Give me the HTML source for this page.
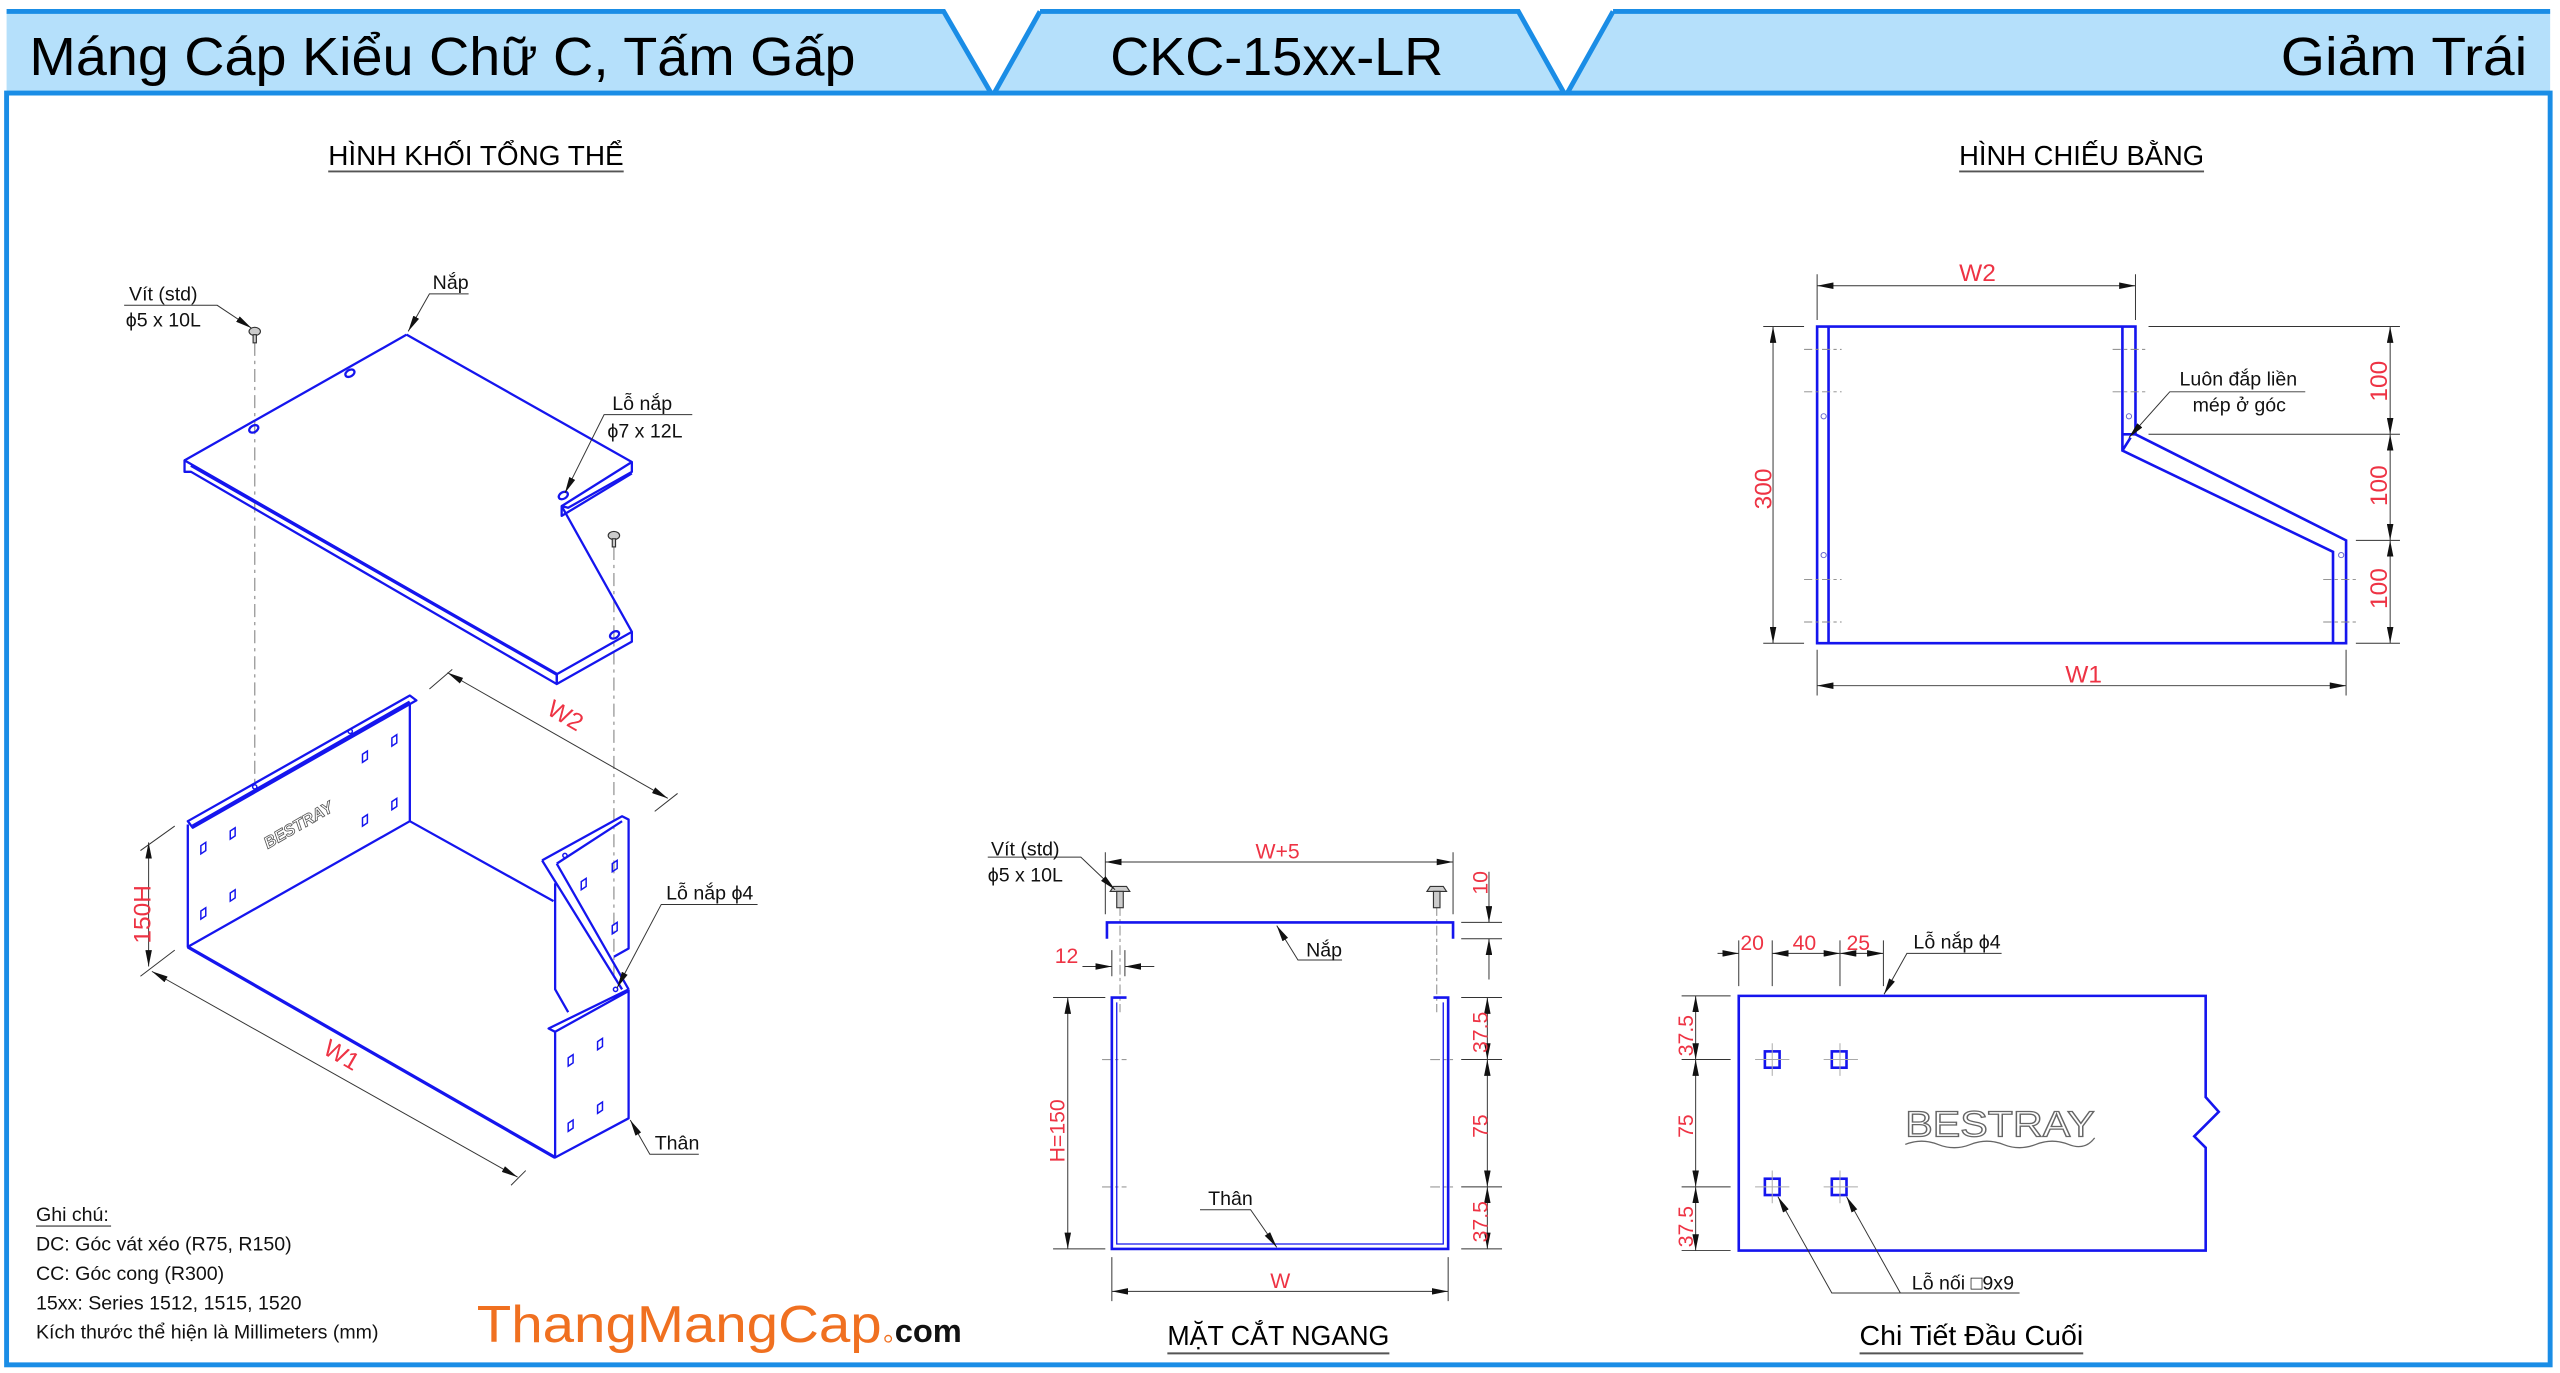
<!DOCTYPE html>
<html><head><meta charset="utf-8"><style>
html,body{margin:0;padding:0;background:#fff}
svg{display:block}
text{font-family:"Liberation Sans","DejaVu Sans",sans-serif}
</style></head><body>
<svg width="2560" height="1373" viewBox="0 0 1568 841" xmlns="http://www.w3.org/2000/svg">
<defs>
<marker id="a" viewBox="0 0 10 4" refX="10" refY="2" markerWidth="10" markerHeight="4" markerUnits="userSpaceOnUse" orient="auto-start-reverse"><path d="M0,0 L10,2 L0,4z" fill="#111"/></marker>
</defs>
<rect width="1568" height="841" fill="#fff"/>
<!-- header -->
<polygon points="4,7 578,7 607,57 4,57" fill="#b5e0fb"/>
<polygon points="637,7 930,7 958,57 609,57" fill="#b5e0fb"/>
<polygon points="988,7 1562,7 1562,57 960,57" fill="#b5e0fb"/>
<g stroke="#1a8de6" stroke-width="3" fill="none">
<path d="M4,7 H578 L607,57 M637,7 H930 L958,57 M988,7 H1562 M637,7 L609,57 M988,7 L960,57"/>
<rect x="4" y="57" width="1558" height="779"/>
</g>
<text x="18" y="46" font-size="33" textLength="506" lengthAdjust="spacingAndGlyphs">Máng Cáp Kiểu Chữ C, Tấm Gấp</text>
<text x="680" y="46" font-size="33" textLength="204" lengthAdjust="spacingAndGlyphs">CKC-15xx-LR</text>
<text x="1397" y="46" font-size="33" textLength="151" lengthAdjust="spacingAndGlyphs">Giảm Trái</text>
<!-- section titles -->
<g font-size="17">
<text x="201" y="101" textLength="181" lengthAdjust="spacingAndGlyphs">HÌNH KHỐI TỔNG THỂ</text>
<text x="1200" y="101" textLength="150" lengthAdjust="spacingAndGlyphs">HÌNH CHIẾU BẰNG</text>
<text x="715" y="824" textLength="136" lengthAdjust="spacingAndGlyphs">MẶT CẮT NGANG</text>
<text x="1139" y="824" textLength="137" lengthAdjust="spacingAndGlyphs">Chi Tiết Đầu Cuối</text>
</g>
<g stroke="#555" stroke-width="1.2"><path d="M201,105 H382 M1200,105 H1350 M715,829 H851 M1139,829 H1276"/></g>

<!-- ========== ISOMETRIC ========== -->
<g stroke="#999" stroke-width="0.8" stroke-dasharray="8,3,2,3" fill="none">
<path d="M156,210 V482 M376,335 V600"/>
</g>
<!-- lid -->
<g stroke="#1515ee" stroke-width="1.4" fill="none" stroke-linejoin="round">
<path d="M249,205 L387,283 L387,289 L348,311 L344,310 L387,387 L387,393 L341,419 L341,413 L113,282 L113,289 L117,289 L341,419"/>
<path d="M249,205 L113,282 M387,283 L344,310 M344,310 L344,316 L387,290 M387,387 L341,413 M341,413 L341,419"/>
<path d="M117,285 L341,413" stroke-width="2"/>
<ellipse cx="155.4" cy="262.7" rx="3" ry="2" transform="rotate(-30 155.4 262.7)"/>
<ellipse cx="214.3" cy="228.6" rx="3" ry="2" transform="rotate(-30 214.3 228.6)"/>
<ellipse cx="345" cy="303.5" rx="3" ry="2" transform="rotate(-30 345 303.5)"/>
<ellipse cx="376.4" cy="388.9" rx="3" ry="2" transform="rotate(-30 376.4 388.9)"/>
</g>
<!-- screws iso -->
<g fill="#ccc" stroke="#333" stroke-width="0.7">
<ellipse cx="156" cy="203" rx="3.5" ry="2.5"/><rect x="155" y="205" width="2" height="5"/>
<ellipse cx="376" cy="328" rx="3.5" ry="2.5"/><rect x="375" y="330" width="2" height="5"/>
</g>
<!-- body -->
<g stroke="#1515ee" stroke-width="1.4" fill="none" stroke-linejoin="round">
<path d="M115,503 L251,426 L255,429 L118,507 L115,503 Z"/>
<path d="M115,505 V580 L340,709 L385,685 V606"/>
<path d="M251,431 V503 L115,580 M251,503 L339,552"/>
<path d="M118,506 L251,430" stroke-width="2"/>
<path d="M115,580 L340,709" stroke-width="2"/>
<path d="M340,709 V632 L336,630 L385,606 M340,632 L385,607"/>
<path d="M332,527 L381,500 L385,502 V581 L376,586"/>
<path d="M332,527 L381,606 M341,529 L385,606 M341,529 L381,503"/>
<path d="M340,541 V606 L348,620"/>
</g>
<g stroke="#1515ee" stroke-width="0.9" fill="none">
<path d="M123,518 l3,-2 v5 l-3,2z M141,509 l3,-2 v5 l-3,2z M123,558 l3,-2 v5 l-3,2z M141,547 l3,-2 v5 l-3,2z M222,462 l3,-2 v5 l-3,2z M240,452 l3,-2 v5 l-3,2z M222,501 l3,-2 v5 l-3,2z M240,491 l3,-2 v5 l-3,2z M348,648 l3,-2 v5 l-3,2z M366,638 l3,-2 v5 l-3,2z M348,688 l3,-2 v5 l-3,2z M366,677 l3,-2 v5 l-3,2z M356,540 l3,-2 v5 l-3,2z M375,529 l3,-2 v5 l-3,2z M375,567 l3,-2 v5 l-3,2z"/>
<circle cx="156" cy="482" r="1.3"/><circle cx="214.5" cy="448" r="1.3"/><circle cx="346" cy="524" r="1.3"/><circle cx="377" cy="606" r="1.3"/>
</g>
<text x="0" y="0" font-size="10" font-weight="bold" fill="none" stroke="#555" stroke-width="0.5" font-style="italic" transform="translate(164,520) rotate(-30)">BESTRAY</text>
<!-- iso dims -->
<g stroke="#333" stroke-width="0.6" fill="none">
<path d="M274,412 L409,489" marker-start="url(#a)" marker-end="url(#a)"/>
<path d="M263,422 L277,410 M401,497 L415,486"/>
<path d="M93,595 L317,721" marker-start="url(#a)" marker-end="url(#a)"/>
<path d="M91,516 V592" marker-start="url(#a)" marker-end="url(#a)"/>
<path d="M86,598 L107,582 M86,521 L107,506 M313,726 L322,717"/>
</g>
<g fill="#ee3344" font-size="15">
<text transform="translate(334,437) rotate(30)">W2</text>
<text transform="translate(197,645) rotate(30)">W1</text>
<text transform="translate(92,578) rotate(-90)">150H</text>
</g>
<!-- iso labels -->
<g stroke="#333" stroke-width="0.6" fill="none">
<path d="M76,187 H133 L154,201" marker-end="url(#a)"/>
<path d="M287,180 H263 L250,203" marker-end="url(#a)"/>
<path d="M424,254 H370 L346,302" marker-end="url(#a)"/>
<path d="M464,554 H405 L378,605" marker-end="url(#a)"/>
<path d="M428,707 H398 L386,686" marker-end="url(#a)"/>
</g>
<g font-size="12" fill="#111">
<text x="79" y="184">Vít (std)</text>
<text x="77" y="200">ϕ5 x 10L</text>
<text x="265" y="177">Nắp</text>
<text x="375" y="251">Lỗ nắp</text>
<text x="372" y="268">ϕ7 x 12L</text>
<text x="408" y="551">Lỗ nắp ϕ4</text>
<text x="401" y="704">Thân</text>
</g>

<!-- ========== CROSS SECTION ========== -->
<g stroke="#999" stroke-width="0.7" fill="none" stroke-dasharray="6,2,2,2">
<path d="M686,555 V620 M880,555 V620"/>
<path d="M675,649 H690 M876,649 H890 M675,727 H690 M876,727 H890"/>
</g>
<g stroke="#1515ee" stroke-width="1.6" fill="none">
<path d="M678,575 V565 H890 V575"/>
<path d="M690,611 H681 V765 H887 V611 H878"/>
<path d="M684,614 V762 H884 V614" stroke-width="0.8"/>
</g>
<g fill="#ccc" stroke="#333" stroke-width="0.7">
<path d="M680,546 h12 l-2,-3 h-8z"/><rect x="684" y="546" width="4" height="10"/>
<path d="M874,546 h12 l-2,-3 h-8z"/><rect x="878" y="546" width="4" height="10"/>
</g>
<g stroke="#333" stroke-width="0.6" fill="none">
<path d="M677,528 H890" marker-start="url(#a)" marker-end="url(#a)"/>
<path d="M677,522 V560 M890,522 V560"/>
<path d="M912,534 V565 M912,575 V600" />
<path d="M912,555 V565" marker-end="url(#a)"/><path d="M912,585 V575" marker-end="url(#a)"/>
<path d="M895,565 H920 M895,575 H920"/>
<path d="M663,592 H681" marker-end="url(#a)"/><path d="M707,592 H689" marker-end="url(#a)"/>
<path d="M681,582 V598 M689,582 V598"/>
<path d="M654,611 V765" marker-start="url(#a)" marker-end="url(#a)"/>
<path d="M645,611 H677 M645,765 H677"/>
<path d="M911,611 V649" marker-start="url(#a)" marker-end="url(#a)"/>
<path d="M911,649 V727" marker-start="url(#a)" marker-end="url(#a)"/>
<path d="M911,727 V765" marker-start="url(#a)" marker-end="url(#a)"/>
<path d="M895,611 H920 M895,649 H920 M895,727 H920 M895,765 H920"/>
<path d="M681,791 H887" marker-start="url(#a)" marker-end="url(#a)"/>
<path d="M681,770 V797 M887,770 V797"/>
<path d="M605,525 H662 L683,545" marker-end="url(#a)"/>
<path d="M822,588 H795 L782,567" marker-end="url(#a)"/>
<path d="M735,741 H766 L782,764" marker-end="url(#a)"/>
</g>
<g fill="#ee3344" font-size="13">
<text x="769" y="526">W+5</text>
<text x="646" y="590">12</text>
<text x="778" y="789">W</text>
<text transform="translate(911,548) rotate(-90)">10</text>
<text transform="translate(652,712) rotate(-90)">H=150</text>
<text transform="translate(911,645) rotate(-90)">37.5</text>
<text transform="translate(911,697) rotate(-90)">75</text>
<text transform="translate(911,761) rotate(-90)">37.5</text>
</g>
<g font-size="12" fill="#111">
<text x="607" y="524">Vít (std)</text>
<text x="605" y="540">ϕ5 x 10L</text>
<text x="800" y="586">Nắp</text>
<text x="740" y="738">Thân</text>
</g>

<!-- ========== PLAN VIEW ========== -->
<g stroke="#1515ee" stroke-width="1.6" fill="none" stroke-linejoin="miter">
<path d="M1113,200 H1308 V266 L1437,331 V394 H1113 Z"/>
<path d="M1120,200 V394 M1300,200 V276 L1429,338 V394 M1300,266 H1308 M1300,276 L1305,268"/>
</g>
<g stroke="#888" stroke-width="0.6" fill="none" stroke-dasharray="5,2,2,2">
<path d="M1105,214 H1128 M1105,240 H1128 M1105,355 H1128 M1105,381 H1128 M1294,214 H1316 M1294,240 H1316 M1423,355 H1443 M1423,381 H1443"/>
</g>
<g stroke="#6666cc" stroke-width="0.6" fill="none">
<circle cx="1117" cy="255" r="1.6"/><circle cx="1117" cy="340" r="1.6"/><circle cx="1304" cy="255" r="1.6"/><circle cx="1434" cy="340" r="1.6"/>
</g>
<g stroke="#333" stroke-width="0.6" fill="none">
<path d="M1113,175 H1308" marker-start="url(#a)" marker-end="url(#a)"/>
<path d="M1113,168 V196 M1308,168 V196"/>
<path d="M1113,420 H1437" marker-start="url(#a)" marker-end="url(#a)"/>
<path d="M1113,398 V426 M1437,398 V426"/>
<path d="M1086,200 V394" marker-start="url(#a)" marker-end="url(#a)"/>
<path d="M1080,200 H1105 M1080,394 H1105"/>
<path d="M1464,200 V266" marker-start="url(#a)" marker-end="url(#a)"/>
<path d="M1464,266 V331" marker-start="url(#a)" marker-end="url(#a)"/>
<path d="M1464,331 V394" marker-start="url(#a)" marker-end="url(#a)"/>
<path d="M1316,200 H1470 M1316,266 H1470 M1443,331 H1470 M1443,394 H1470"/>
<path d="M1412,240 H1329 L1304,268" marker-end="url(#a)"/>
</g>
<g fill="#ee3344" font-size="15">
<text x="1200" y="172">W2</text>
<text x="1265" y="418">W1</text>
<text transform="translate(1085,312) rotate(-90)">300</text>
<text transform="translate(1462,246) rotate(-90)">100</text>
<text transform="translate(1462,310) rotate(-90)">100</text>
<text transform="translate(1462,373) rotate(-90)">100</text>
</g>
<g font-size="12" fill="#111">
<text x="1335" y="236">Luôn đắp liền</text>
<text x="1343" y="252">mép ở góc</text>
</g>

<!-- ========== END DETAIL ========== -->
<g stroke="#1515ee" stroke-width="1.6" fill="none">
<path d="M1065,610 H1351 V672 L1359,681 L1344,696 L1351,703 V766 H1065 Z"/>
<rect x="1081" y="644" width="9" height="10"/><rect x="1122" y="644" width="9" height="10"/>
<rect x="1081" y="722" width="9" height="10"/><rect x="1122" y="722" width="9" height="10"/>
</g>
<g stroke="#aaa" stroke-width="0.6" fill="none">
<path d="M1075,649 H1096 M1085.5,639 V659 M1117,649 H1138 M1127,639 V659 M1075,727 H1096 M1085.5,717 V737 M1117,727 H1138 M1127,717 V737"/>
</g>
<text x="1167" y="696" font-size="22" fill="none" stroke="#666" stroke-width="0.8" textLength="116" lengthAdjust="spacingAndGlyphs">BESTRAY</text>
<path d="M1167,701 q10,-4 20,0 t20,0 t20,0 t20,0 t20,0 t16,-4" stroke="#666" stroke-width="0.8" fill="none"/>
<g stroke="#333" stroke-width="0.6" fill="none">
<path d="M1052,584 H1065" marker-end="url(#a)"/>
<path d="M1085.5,584 H1127" marker-start="url(#a)" marker-end="url(#a)"/>
<path d="M1127,584 H1153.6" marker-start="url(#a)" marker-end="url(#a)"/>
<path d="M1065,576 V604 M1085.5,576 V604 M1127,576 V604 M1153.6,576 V604"/>
<path d="M1038.6,610 V649" marker-start="url(#a)" marker-end="url(#a)"/>
<path d="M1038.6,649 V727" marker-start="url(#a)" marker-end="url(#a)"/>
<path d="M1038.6,727 V766" marker-start="url(#a)" marker-end="url(#a)"/>
<path d="M1030,610 H1060 M1030,649 H1060 M1030,727 H1060 M1030,766 H1060"/>
<path d="M1226,584 H1168 L1154,609" marker-end="url(#a)"/>
<path d="M1237,792 H1122 L1089,733" marker-end="url(#a)"/>
<path d="M1164,792 L1131,733" marker-end="url(#a)"/>
</g>
<g fill="#ee3344" font-size="13">
<text x="1066" y="582">20</text><text x="1098" y="582">40</text><text x="1131" y="582">25</text>
<text transform="translate(1037,647) rotate(-90)">37.5</text>
<text transform="translate(1037,697) rotate(-90)">75</text>
<text transform="translate(1037,764) rotate(-90)">37.5</text>
</g>
<g font-size="12" fill="#111">
<text x="1172" y="581">Lỗ nắp ϕ4</text>
<text x="1171" y="790">Lỗ nối □9x9</text>
</g>

<!-- notes -->
<g font-size="12" fill="#111">
<text x="22" y="748">Ghi chú:</text>
<text x="22" y="766">DC: Góc vát xéo (R75, R150)</text>
<text x="22" y="784">CC: Góc cong (R300)</text>
<text x="22" y="802">15xx: Series 1512, 1515, 1520</text>
<text x="22" y="820">Kích thước thể hiện là Millimeters (mm)</text>
</g>
<path d="M22,751 H68" stroke="#555" stroke-width="0.8"/>
<text x="292" y="822" font-size="32" fill="#f07020" textLength="248" lengthAdjust="spacingAndGlyphs">ThangMangCap</text>
<circle cx="544" cy="820" r="2" fill="none" stroke="#f07020" stroke-width="0.8"/>
<text x="548" y="822" font-size="20" fill="#111" font-weight="bold">com</text>
</svg>
</body></html>
